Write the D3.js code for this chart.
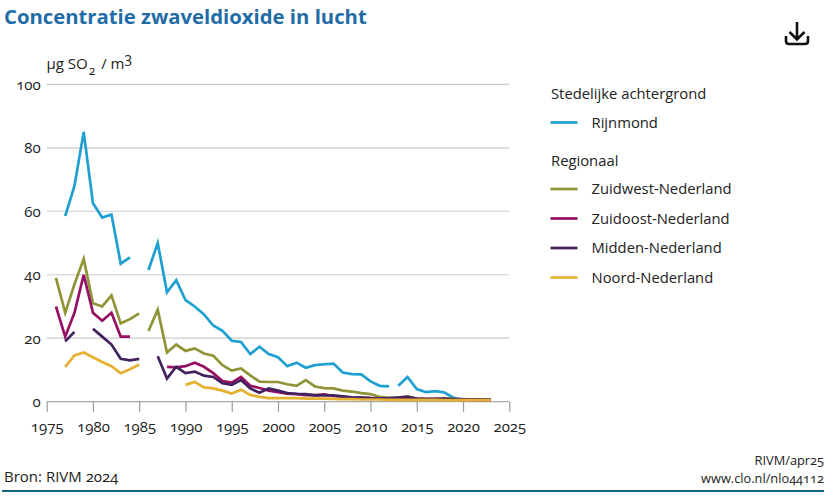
<!DOCTYPE html>
<html>
<head>
<meta charset="utf-8">
<script src="https://cdn.jsdelivr.net/npm/d3@7"></script>
<style>
  html, body { margin: 0; padding: 0; background: #fff; }
  text { font-family: "Open Sans", "Noto Sans", sans-serif; fill: #222; font-variant-numeric: oldstyle-nums; }
  .axis text { font-size: 15px; }
</style>
</head>
<body>
<div id="chart"></div>
<script>
var width = 832, height = 501;

var xTicks = [1975, 1980, 1985, 1990, 1995, 2000, 2005, 2010, 2015, 2020, 2025];
var yTicks = [0, 20, 40, 60, 80, 100];

// every run: first year + values, a new run means a break in the line
var rijnmond = [
  [1977, [58.5, 68, 85, 62.5, 58, 59, 43.5, 45.5]],
  [1986, [41.5, 50, 34.5, 38.3, 32, 30, 27.5, 24, 22.3, 19.2, 18.8, 15, 17.3, 15, 14, 11.2, 12.3, 10.7, 11.5, 11.8, 12, 9.2, 8.7, 8.6, 6.4, 5, 4.8]],
  [2013, [5, 7.8, 4, 3, 3.3, 2.9, 1.2, 0.7, 0.6, 0.6]]
];
var zuidwest = [
  [1976, [39, 28, 37, 45, 31, 30, 33.5, 24.7, 26, 27.8]],
  [1986, [22.3, 29, 15.5, 18, 16, 16.8, 15.2, 14.5, 11.5, 9.8, 10.5, 8.3, 6.3, 6.2, 6.2, 5.5, 5, 6.8, 4.8, 4.3, 4.2, 3.5, 3.2, 2.7, 2.4, 1.5, 1.2, 1.3, 1.7, 1, 0.9, 0.8, 1.1, 0.9, 0.8, 0.7, 0.7, 0.6]]
];
var zuidoost = [
  [1976, [30, 20.5, 28, 40, 28, 25.5, 28, 20.5, 20.5]],
  [1988, [11, 10.8, 11.2, 12.3, 11, 9, 6.5, 6, 7.8, 5, 4.3, 3.5, 3, 2.5, 2.4, 2.1, 2.1, 2.3, 1.8, 1.5, 1.3, 1.2, 1.1, 1, 0.9, 0.9, 0.8, 0.8, 0.8, 0.9, 0.8, 0.7, 0.6, 0.6, 0.5, 0.5]]
];
var midden = [
  [1977, [19, 22]],
  [1980, [23, 20.5, 18, 13.5, 13, 13.5]],
  [1987, [14.3, 7.3, 11, 9, 9.5, 8.2, 7.8, 5.8, 5.3, 6.8, 4.2, 2.8, 4.2, 3.5, 2.7, 2.5, 2.4, 2, 2, 2, 1.7, 1.4, 1.3, 1.1, 1, 1.1, 1.3, 1.5, 1, 0.8, 0.8, 0.9, 0.8, 0.7, 0.7, 0.7, 0.7]]
];
var noord = [
  [1977, [11, 14.6, 15.5, 14, 12.5, 11.2, 9, 10.2, 11.7]],
  [1990, [5.3, 6.2, 4.5, 4.2, 3.5, 2.6, 3.8, 2.1, 1.5, 1.1, 1.1, 1.1, 1.1, 1, 1, 1, 0.9, 0.8, 0.8, 0.7, 0.7, 0.7, 0.6, 0.6, 0.6, 0.6, 0.6, 0.6, 0.5, 0.5, 0.5, 0.5, 0.5, 0.5]]
];

var seriesNames = ["Rijnmond", "Zuidwest-Nederland", "Zuidoost-Nederland", "Midden-Nederland", "Noord-Nederland"];
var seriesColors = ["#1fa0d2", "#8f9437", "#960f62", "#42215f", "#e6b030"];
var seriesRuns = [rijnmond, zuidwest, zuidoost, midden, noord];

var x = d3.scaleLinear().domain([1975, 2025]).range([46.7, 509.3]);
var y = d3.scaleLinear().domain([0, 100]).range([401.7, 84.3]);

var svg = d3.select("#chart").append("svg")
  .attr("width", width)
  .attr("height", height)
  .style("display", "block");

svg.append("text")
  .text("Concentratie zwaveldioxide in lucht")
  .attr("x", 4)
  .attr("y", 24)
  .attr("font-size", 20.3)
  .attr("font-weight", "bold")
  .style("fill", "#1f6ca6");

// download icon
var icon = svg.append("g")
  .attr("fill", "none")
  .attr("stroke", "#111")
  .attr("stroke-width", 2.6);
icon.append("path").attr("d", "M797 22V39M789.5 32L797 39.5L804.500 32");
icon.append("path").attr("d", "M786 36V41Q786 44 789 44H805Q808 44 808 41V36");

// y axis
var yAxis = d3.axisLeft(y).tickValues(yTicks).tickSize(0).tickPadding(6);
var yG = svg.append("g")
  .attr("class", "axis")
  .attr("transform", "translate(46.7,0)")
  .call(yAxis);
yG.select(".domain").remove();

svg.append("g").selectAll("line")
  .data(yTicks)
  .join("line")
  .attr("x1", x(1975))
  .attr("x2", x(2025))
  .attr("y1", function(d) { return y(d); })
  .attr("y2", function(d) { return y(d); })
  .attr("stroke", function(d) { return d === 0 ? "#aaa" : "#ccc"; })
  .attr("stroke-width", 1.2);

// x axis
var xAxis = d3.axisBottom(x).tickValues(xTicks).tickFormat(d3.format("d")).tickSize(10).tickPadding(10);
var xG = svg.append("g")
  .attr("class", "axis")
  .attr("transform", "translate(0,401.7)")
  .call(xAxis);
xG.select(".domain").remove();
xG.selectAll("line").attr("stroke", "#999").attr("stroke-width", 1.2);

// lines
var lineGenerator = d3.line()
  .x(function(d) { return x(d.year); })
  .y(function(d) { return y(d.value); });

seriesRuns.forEach(function(runs, i) {
  runs.forEach(function(run) {
    var points = run[1].map(function(v, j) { return {year: run[0] + j, value: v}; });
    svg.append("path")
      .datum(points)
      .attr("d", lineGenerator)
      .attr("fill", "none")
      .attr("stroke", seriesColors[i])
      .attr("stroke-width", 2.7)
      .attr("stroke-linejoin", "miter");
  });
});

// unit label
var unit = svg.append("text")
  .attr("x", 46.500)
  .attr("y", 69)
  .attr("font-size", 15);
unit.append("tspan").text("µg SO");
unit.append("tspan").text("2").attr("font-size", 12).attr("dy", 6).attr("dx", 1);
unit.append("tspan").text(" / m").attr("dy", -6).attr("dx", 2);
unit.append("tspan").text("3").attr("font-size", 14).attr("dy", -6);

// legend
var legendHeads = ["Stedelijke achtergrond", "Regionaal"];
var legendHeadY = [99, 166];
var legendY = [122.500, 189, 218.500, 248, 277.500];

svg.append("g").selectAll("text")
  .data(legendHeads)
  .join("text")
  .text(function(d) { return d; })
  .attr("x", 551)
  .attr("y", function(d, i) { return legendHeadY[i]; })
  .attr("font-size", 14.8);

var legend = svg.append("g").selectAll("g")
  .data(seriesNames)
  .join("g")
  .attr("transform", function(d, i) { return "translate(0," + legendY[i] + ")"; });
legend.append("line")
  .attr("x1", 550.500)
  .attr("x2", 577.500)
  .attr("stroke", function(d, i) { return seriesColors[i]; })
  .attr("stroke-width", 2.7);
legend.append("text")
  .text(function(d) { return d; })
  .attr("x", 591.500)
  .attr("y", 5)
  .attr("font-size", 14.8);

// footer
svg.append("text").text("Bron: RIVM 2024").attr("x", 4).attr("y", 482).attr("font-size", 15);
svg.append("text").text("RIVM/apr25").attr("x", 824).attr("y", 465).attr("text-anchor", "end").attr("font-size", 12.8);
svg.append("text").text("www.clo.nl/nlo44112").attr("x", 824).attr("y", 483).attr("text-anchor", "end").attr("font-size", 12.8);
svg.append("rect").attr("x", 2).attr("y", 490).attr("width", 822).attr("height", 2).style("fill", "#0f6785");
</script>
</body>
</html>
